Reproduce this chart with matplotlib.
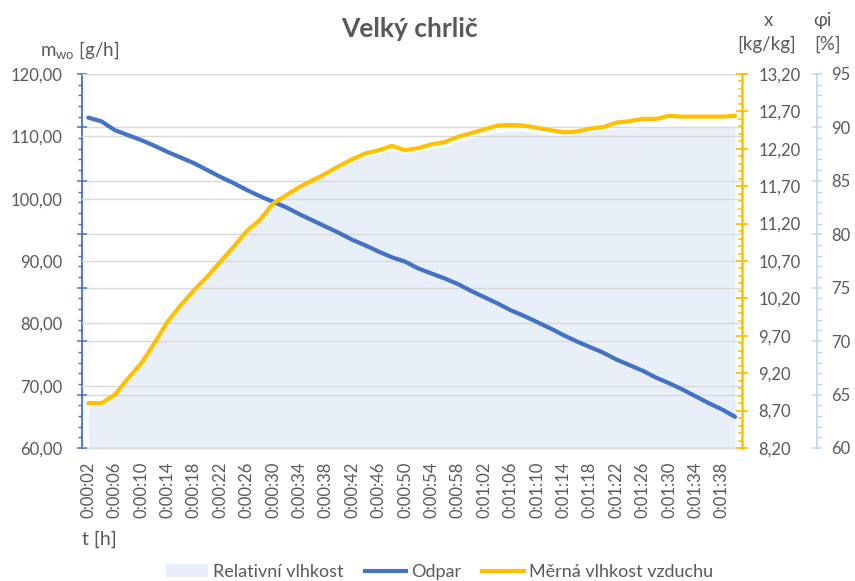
import matplotlib
matplotlib.use("Agg")
import matplotlib.pyplot as plt
from matplotlib.lines import Line2D
from matplotlib.patches import Patch
from matplotlib.ticker import MultipleLocator, FixedLocator, FuncFormatter

plt.rcParams['font.family'] = ['Lato', 'DejaVu Sans']
plt.rcParams['mathtext.fontset'] = 'custom'
plt.rcParams['mathtext.rm'] = 'Lato'
plt.rcParams['mathtext.it'] = 'Lato:italic'

# --- data -------------------------------------------------------------
seconds = list(range(2, 101, 2))
time_labels = [f"{s // 3600}:{(s % 3600) // 60:02d}:{s % 60:02d}" for s in seconds]

odpar = [113.0, 112.4, 111.0, 110.2, 109.4, 108.5, 107.5, 106.6, 105.7, 104.6,
         103.5, 102.5, 101.4, 100.4, 99.5, 98.6, 97.5, 96.5, 95.5, 94.5,
         93.4, 92.5, 91.5, 90.6, 89.9, 88.8, 88.0, 87.2, 86.3, 85.2,
         84.2, 83.2, 82.1, 81.2, 80.2, 79.2, 78.1, 77.1, 76.2, 75.3,
         74.2, 73.3, 72.4, 71.3, 70.4, 69.4, 68.3, 67.2, 66.2, 65.0]

merna_vlhkost = [8.80, 8.80, 8.91, 9.13, 9.33, 9.60, 9.89, 10.11, 10.31, 10.49,
                 10.69, 10.89, 11.10, 11.25, 11.47, 11.58, 11.69, 11.78, 11.87, 11.97,
                 12.06, 12.14, 12.18, 12.24, 12.18, 12.21, 12.26, 12.29, 12.36, 12.41,
                 12.46, 12.51, 12.52, 12.51, 12.48, 12.45, 12.42, 12.43, 12.47, 12.49,
                 12.55, 12.57, 12.60, 12.60, 12.64, 12.63, 12.63, 12.63, 12.63, 12.64]

relativni_vlhkost = [64.0, 64.0, 64.8, 66.3, 67.7, 69.6, 71.6, 73.2, 74.6, 75.8,
                     77.3, 78.7, 80.1, 81.2, 82.7, 83.5, 84.3, 84.9, 85.5, 86.2,
                     86.8, 87.3, 87.5, 87.9, 87.6, 87.8, 88.0, 88.2, 88.7, 89.0,
                     89.3, 89.6, 89.7, 89.7, 89.5, 89.3, 89.2, 89.4, 89.6, 89.8,
                     89.9, 89.9, 90.0, 90.0, 90.0, 90.1, 90.1, 90.1, 90.1, 90.1]

x_major_ticks = [8.2, 8.7, 9.2, 9.7, 10.2, 10.7, 11.2, 11.7, 12.2, 12.7, 13.2]

# --- styling ------------------------------------------------------------
TXT = "#595959"
GRID = "#d9d9d9"
BLUE = "#4472C4"
YELLOW = "#FFC000"
LIGHTBLUE = "#BDD7EE"
FILL = "#E8EFF8"
TICK_FS = 12

W, H = 855, 581
fig = plt.figure(figsize=(W / 100, H / 100), dpi=100)
rect = [81.7 / W, 1 - 448 / H, (741.7 - 81.7) / W, (448 - 74) / H]

idx = list(range(len(seconds)))
comma = FuncFormatter(lambda v, p: f"{v:.2f}".replace(".", ","))

# relative humidity area (φi axis, offset on the right)
ax_phi = fig.add_axes(rect)
ax_phi.fill_between(idx, 60, relativni_vlhkost, color=FILL, lw=0, zorder=1)
ax_phi.plot(idx, relativni_vlhkost, color="white", lw=0.8, zorder=1.2)
ax_phi.set_ylim(60, 95)
ax_phi.set_xlim(-0.5, len(idx) - 0.5)
ax_phi.yaxis.set_major_locator(MultipleLocator(5))
ax_phi.yaxis.set_minor_locator(MultipleLocator(1))
ax_phi.grid(axis="y", which="major", color=GRID, lw=1.0)
for s in ["top", "left"]:
    ax_phi.spines[s].set_visible(False)
ax_phi.spines["right"].set_position(("axes", 1.114))
ax_phi.spines["right"].set_color(LIGHTBLUE)
ax_phi.spines["right"].set_linewidth(1.2)
ax_phi.spines["bottom"].set_color(GRID)
ax_phi.spines["bottom"].set_linewidth(1.0)
ax_phi.set_xticks(idx[::2])
ax_phi.set_xticklabels(time_labels[::2], rotation=90, va="top", ha="center")
ax_phi.tick_params(axis="x", length=0, labelsize=TICK_FS, labelcolor=TXT, pad=10)

# tick marks on the left spine
ax_lt = ax_phi.twinx()
ax_lt.set_ylim(60, 95)
ax_lt.yaxis.tick_left()
ax_lt.yaxis.set_major_locator(MultipleLocator(5))
ax_lt.yaxis.set_minor_locator(MultipleLocator(1))
ax_lt.tick_params(axis="y", which="both", labelleft=False, labelright=False)
ax_lt.tick_params(axis="y", which="major", direction="inout", length=7.5, width=1.1, color=BLUE)
ax_lt.tick_params(axis="y", which="minor", direction="out", length=3.2, width=1.0, color=BLUE)
for s in ["top", "right", "bottom"]:
    ax_lt.spines[s].set_visible(False)
ax_lt.spines["left"].set_color(BLUE)
ax_lt.spines["left"].set_linewidth(1.3)

# evaporation (left axis)
ax_m = ax_phi.twinx()
ax_m.set_ylim(60, 120)
ax_m.yaxis.tick_left()
ax_m.yaxis.set_major_locator(MultipleLocator(10))
ax_m.yaxis.set_major_formatter(comma)
ax_m.tick_params(axis="y", length=0, labelsize=TICK_FS, labelcolor=TXT, pad=14)
ax_m.grid(axis="y", color=GRID, lw=1.0)
for s in ax_m.spines.values():
    s.set_visible(False)
ax_m.plot(idx, odpar, color=BLUE, lw=3.0, solid_capstyle="round", zorder=3)

# specific humidity (right axis)
ax_x = ax_phi.twinx()
ax_x.set_ylim(8.2, 13.2)
ax_x.yaxis.set_major_locator(FixedLocator(x_major_ticks))
ax_x.yaxis.set_minor_locator(FixedLocator([t + 0.1 * k for t in x_major_ticks[:-1]
                                           for k in range(1, 5)]))
ax_x.yaxis.set_major_formatter(comma)
ax_x.tick_params(axis="y", which="major", direction="inout", length=8, width=1.3,
                 color=YELLOW, labelcolor=TXT, labelsize=TICK_FS, pad=8)
ax_x.tick_params(axis="y", which="minor", direction="in", length=3, width=1.1, color=YELLOW)
for s in ["top", "left", "bottom"]:
    ax_x.spines[s].set_visible(False)
ax_x.spines["right"].set_color(YELLOW)
ax_x.spines["right"].set_linewidth(1.8)
ax_x.plot(idx, merna_vlhkost, color=YELLOW, lw=3.0, solid_capstyle="round", zorder=3)

# φi ticks go on the offset right spine (twinx resets the base axis to the left)
ax_phi.yaxis.tick_right()
ax_phi.tick_params(axis="y", which="major", direction="inout", length=7, width=1.1,
                   color=LIGHTBLUE, labelcolor=TXT, labelsize=TICK_FS, pad=7,
                   left=False, labelleft=False, right=True, labelright=True)
ax_phi.tick_params(axis="y", which="minor", direction="out", length=3.5, width=1.0,
                   color=LIGHTBLUE, left=False, right=True)

# titles
fig.text(409 / W, 1 - 37 / H, "Velký chrlič", ha="center", va="baseline",
         fontsize=19, fontweight="bold", color=TXT)
fig.text(40 / W, 1 - 56 / H, r"m$_{\mathrm{wo}}$ [g/h]", ha="left", va="baseline",
         fontsize=13.5, color=TXT)
fig.text(768 / W, 1 - 26 / H, "x", ha="center", va="baseline", fontsize=13.5, color=TXT)
fig.text(767 / W, 1 - 50 / H, "[kg/kg]", ha="center", va="baseline", fontsize=13.5, color=TXT)
fig.text(813 / W, 1 - 26 / H, "φi", ha="left", va="baseline", fontsize=13.5, color=TXT)
fig.text(814 / W, 1 - 50 / H, "[%]", ha="left", va="baseline", fontsize=13.5, color=TXT)
fig.text(82 / W, 1 - 545 / H, "t [h]", ha="left", va="baseline", fontsize=14, color=TXT)

# legend
handles = [Patch(facecolor=FILL, edgecolor="none"),
           Line2D([], [], color=BLUE, lw=3.0),
           Line2D([], [], color=YELLOW, lw=3.0)]
labels = ["Relativní vlhkost", "Odpar", "Měrná vlhkost vzduchu"]
leg = fig.legend(handles, labels, loc="center", ncol=3, frameon=False,
                 bbox_to_anchor=(440 / W, 1 - 572 / H), fontsize=13,
                 handlelength=2.3, handleheight=0.7, handletextpad=0.3,
                 columnspacing=1.15, borderaxespad=0)
for t in leg.get_texts():
    t.set_color(TXT)

fig.savefig("out.png", dpi=100)
